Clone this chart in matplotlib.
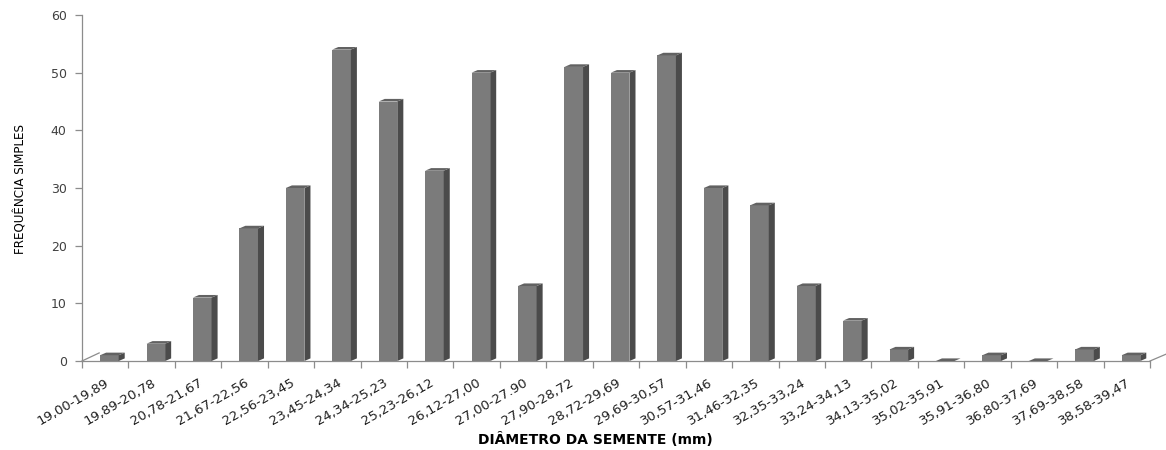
import numpy as np
import matplotlib
matplotlib.use('Agg')
from matplotlib import pyplot as plt
from matplotlib.patches import Polygon
from matplotlib.transforms import ScaledTranslation

## data ##
classes = ['19,00-19,89', '19,89-20,78', '20,78-21,67', '21,67-22,56', '22,56-23,45',
           '23,45-24,34', '24,34-25,23', '25,23-26,12', '26,12-27,00', '27,00-27.90',
           '27,90-28,72', '28,72-29,69', '29,69-30,57', '30,57-31,46', '31,46-32,35',
           '32,35-33,24', '33,24-34,13', '34,13-35,02', '35,02-35,91', '35,91-36,80',
           '36,80-37,69', '37,69-38,58', '38,58-39,47']
freq = [1, 3, 11, 23, 30, 54, 45, 33, 50, 13, 51, 50, 53, 30, 27, 13, 7, 2, 0, 1, 0, 2, 1]
yticks = [0, 10, 20, 30, 40, 50, 60]

## style ##
front_col = '#7b7b7b'
side_col = '#4b4b4b'
top_col = '#626262'
axis_col = '#8c8c8c'
w = 0.40      # front face width (category units)
off = 0.09    # shift of front face to the right of the category centre
ddx = 0.13    # bar depth, x
ddy = 0.45    # bar depth, y

fig = plt.figure(figsize=(11.66, 4.5), dpi=100)
ax = fig.add_axes([82/1166, 1-361/450, (1150-82)/1166, (361-15)/450])

x = np.arange(len(freq))
ax.bar(x + off, freq, width=w, color=front_col, edgecolor='none', zorder=3)
for xi, v in zip(x, freq):
    x0 = xi + off - w/2
    x1 = x0 + w
    if v > 0:
        side = Polygon([(x1, 0), (x1 + ddx, ddy), (x1 + ddx, v + ddy), (x1, v)],
                       closed=True, facecolor=side_col, edgecolor='none', zorder=3)
        ax.add_patch(side)
    top = Polygon([(x0, v), (x0 + ddx, v + ddy), (x1 + ddx, v + ddy), (x1, v)],
                  closed=True, facecolor=top_col, edgecolor='none', zorder=4)
    ax.add_patch(top)

ax.set_xlim(-0.5, len(freq) - 0.5)
ax.set_ylim(0, 60)

# floor edges (3d look)
ax.plot([-0.5, -0.13], [0, 1.4], color=axis_col, lw=0.9, clip_on=False, zorder=2)
ax.plot([len(freq) - 0.5, len(freq) - 0.15], [0, 1.2], color=axis_col, lw=0.9, clip_on=False, zorder=2)

for s in ['top', 'right']:
    ax.spines[s].set_visible(False)
for s in ['left', 'bottom']:
    ax.spines[s].set_color(axis_col)
    ax.spines[s].set_linewidth(0.9)

ax.set_yticks(yticks)
ax.tick_params(axis='y', direction='out', length=5, color=axis_col, width=0.9,
               labelsize=9, labelcolor='#404040', pad=6)

ax.set_xticks(np.arange(len(freq) + 1) - 0.5)
ax.set_xticklabels([])
ax.tick_params(axis='x', which='major', direction='out', length=5, color=axis_col, width=0.9)
ax.set_xticks(x, minor=True)
ax.set_xticklabels(classes, minor=True, rotation=30, ha='right', va='center',
                   rotation_mode='anchor', fontsize=9.5, color='#202020')
ax.tick_params(axis='x', which='minor', length=0, pad=15)
for lab in ax.get_xticklabels(minor=True):
    lab.set_transform(lab.get_transform() + ScaledTranslation(0.03, 0, fig.dpi_scale_trans))

ax.set_ylabel('FREQUÊNCIA SIMPLES', fontsize=9.5, family='DejaVu Sans', fontstretch='condensed')
ax.yaxis.set_label_coords(-0.051, 0.497)
ax.set_xlabel('DIÂMETRO DA SEMENTE (mm)', fontsize=10, fontweight='bold')
ax.xaxis.set_label_coords(0.481, -0.205)

fig.savefig('out.png', dpi=100, facecolor='white')
